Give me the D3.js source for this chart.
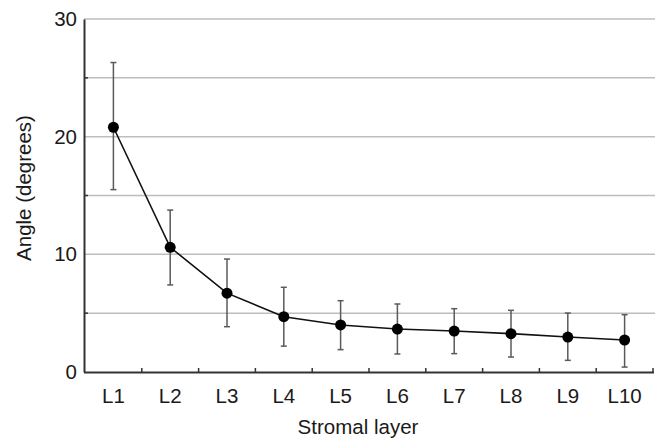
<!DOCTYPE html>
<html>
<head>
<meta charset="utf-8">
<script src="https://cdn.jsdelivr.net/npm/d3@7"></script>
<style>
  body { margin: 0; background: #fff; }
  text { font-family: "Liberation Sans", Arial, sans-serif; fill: #1a1a1a; }
</style>
</head>
<body>
<svg id="chart" width="655" height="441"></svg>
<script>
// data
const layers = ['L1', 'L2', 'L3', 'L4', 'L5', 'L6', 'L7', 'L8', 'L9', 'L10'];
const meanAngle = [20.8, 10.6, 6.7, 4.7, 4.0, 3.65, 3.48, 3.26, 2.97, 2.72];
const upperErr = [26.3, 13.76, 9.6, 7.2, 6.06, 5.78, 5.38, 5.24, 5.01, 4.87];
const lowerErr = [15.5, 7.4, 3.85, 2.2, 1.9, 1.53, 1.56, 1.27, 0.99, 0.42];
const yTicks = [0, 10, 20, 30];
const yGrid = [5, 10, 15, 20, 25, 30];
const yMinor = [5, 15, 25];

const svg = d3.select('#chart');
const plotLeft = 84, plotRight = 653, plotTop = 19, plotBottom = 372;

let x = d3.scaleBand().domain(layers).range([plotLeft + 1, plotRight]);
let y = d3.scaleLinear().domain([0, 30]).range([plotBottom, plotTop]);

let rows = layers.map((l, i) => ({ layer: l, mean: meanAngle[i], hi: upperErr[i], lo: lowerErr[i] }));
let cx = d => x(d.layer) + x.bandwidth() / 2;

// gridlines
svg.append('g').selectAll('line').data(yGrid).join('line')
  .attr('x1', plotLeft).attr('x2', 655)
  .attr('y1', d => y(d)).attr('y2', d => y(d))
  .attr('stroke', '#bdbdbd').attr('stroke-width', 1.5);

// y axis
let yAxis = svg.append('g').attr('transform', `translate(${plotLeft},0)`)
  .call(d3.axisLeft(y).tickValues(yTicks).tickSize(0).tickPadding(7));
yAxis.select('.domain').attr('stroke', '#333').attr('stroke-width', 2);
yAxis.selectAll('text').style('font-size', '20.5px').attr('fill', '#1a1a1a');
svg.append('g').selectAll('line').data(yMinor).join('line')
  .attr('x1', plotLeft).attr('x2', plotLeft + 4)
  .attr('y1', d => y(d)).attr('y2', d => y(d))
  .attr('stroke', '#333').attr('stroke-width', 1.5);

// x axis
let xAxis = svg.append('g').attr('transform', `translate(0,${plotBottom})`)
  .call(d3.axisBottom(x).tickSize(0).tickPadding(16));
xAxis.select('.domain').attr('d', `M${plotLeft},0.5H${plotRight + 1}`).attr('stroke', '#333').attr('stroke-width', 2);
xAxis.selectAll('text').style('font-size', '20.5px').attr('fill', '#1a1a1a');
svg.append('g').selectAll('line').data(layers.slice(1).concat(['end'])).join('line')
  .attr('x1', d => d === 'end' ? plotRight : x(d)).attr('x2', d => d === 'end' ? plotRight : x(d))
  .attr('y1', plotBottom).attr('y2', plotBottom - 4)
  .attr('stroke', '#333').attr('stroke-width', 1.5);

// error bars
let err = svg.append('g').attr('stroke', '#5a5a5a').attr('stroke-width', 1.5);
err.selectAll('.stem').data(rows).join('line').attr('class', 'stem')
  .attr('x1', cx).attr('x2', cx)
  .attr('y1', d => y(d.hi)).attr('y2', d => y(d.lo));
err.selectAll('.capHi').data(rows).join('line').attr('class', 'capHi')
  .attr('x1', d => cx(d) - 3).attr('x2', d => cx(d) + 3)
  .attr('y1', d => y(d.hi)).attr('y2', d => y(d.hi));
err.selectAll('.capLo').data(rows).join('line').attr('class', 'capLo')
  .attr('x1', d => cx(d) - 3).attr('x2', d => cx(d) + 3)
  .attr('y1', d => y(d.lo)).attr('y2', d => y(d.lo));

// line + points
svg.append('path').datum(rows)
  .attr('fill', 'none').attr('stroke', '#111').attr('stroke-width', 1.6)
  .attr('d', d3.line().x(cx).y(d => y(d.mean)));
svg.append('g').selectAll('circle').data(rows).join('circle')
  .attr('cx', cx).attr('cy', d => y(d.mean)).attr('r', 5.5).attr('fill', '#000');

// axis titles
svg.append('text').attr('x', 358).attr('y', 434).attr('text-anchor', 'middle')
  .style('font-size', '20.5px').text('Stromal layer');
svg.append('text').attr('transform', 'translate(31,188) rotate(-90)').attr('text-anchor', 'middle')
  .style('font-size', '20.5px').text('Angle (degrees)');
</script>
</body>
</html>
